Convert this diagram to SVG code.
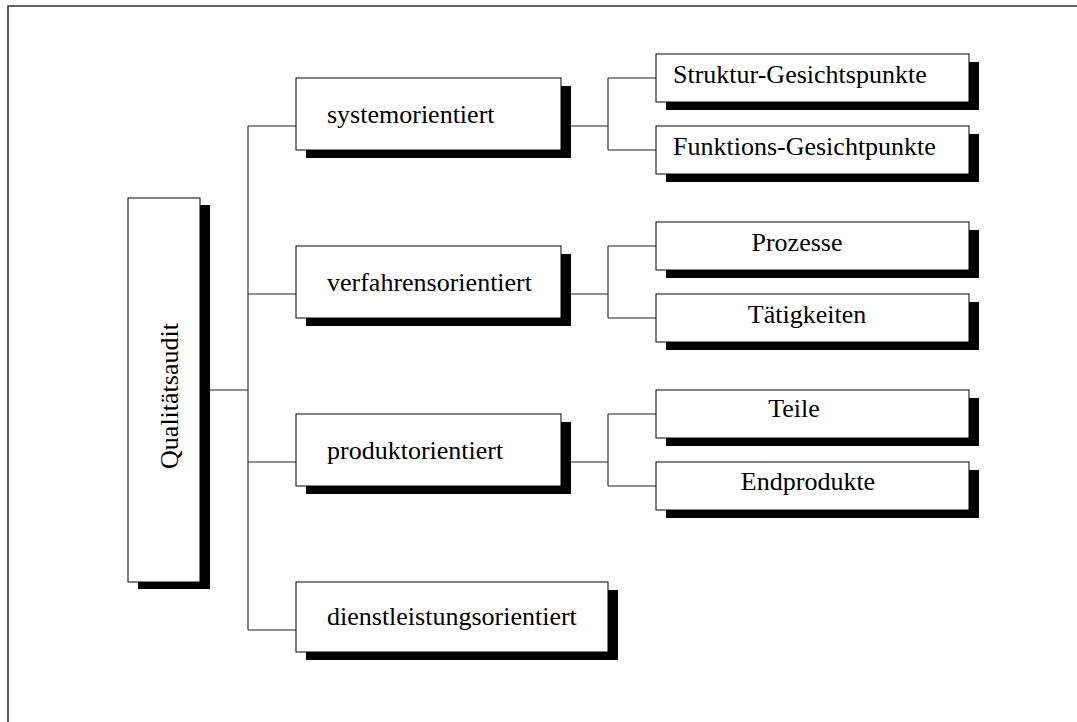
<svg xmlns="http://www.w3.org/2000/svg" width="1077" height="722" viewBox="0 0 1077 722">
  <style>
    .frame { fill: none; stroke: #3c3c3c; stroke-width: 1.6; }
    .box { fill: #ffffff; stroke: #000000; stroke-width: 1; }
    .shadow { fill: #000000; }
    .wire { fill: none; stroke: #222222; stroke-width: 1.1; }
    .label { font-family: "Liberation Serif", "Times New Roman", serif; font-size: 26px; fill: #000000; }
  </style>

  <rect width="1077" height="722" fill="#ffffff"/>
  <!-- page frame, running off the right and bottom edges -->
  <rect class="frame" x="8" y="6" width="1100" height="740"/>

  <g id="connectors">
    <!-- root to trunk -->
    <path class="wire" d="M200 390 H248 M248 126 V630"/>
    <path class="wire" d="M248 126 H296 M248 294 H296 M248 462 H296 M248 630 H296"/>
    <!-- systemorientiert branch -->
    <path class="wire" d="M561 126 H608 M608 78 V150 M608 78 H656 M608 150 H656"/>
    <!-- verfahrensorientiert branch -->
    <path class="wire" d="M561 294 H608 M608 246 V318 M608 246 H656 M608 318 H656"/>
    <!-- produktorientiert branch -->
    <path class="wire" d="M561 462 H608 M608 414 V486 M608 414 H656 M608 486 H656"/>
  </g>

  <g id="node-qualitaetsaudit">
    <rect class="shadow" x="138" y="205" width="72" height="384"/>
    <rect class="box" x="128" y="198" width="72" height="384"/>
    <text class="label" transform="translate(178 396) rotate(-90)" text-anchor="middle">Qualitätsaudit</text>
  </g>

  <g id="node-systemorientiert">
    <rect class="shadow" x="306" y="86" width="265" height="72"/>
    <rect class="box" x="296" y="78" width="265" height="72"/>
    <text class="label" x="327" y="123">systemorientiert</text>
  </g>

  <g id="node-verfahrensorientiert">
    <rect class="shadow" x="306" y="254" width="265" height="72"/>
    <rect class="box" x="296" y="246" width="265" height="72"/>
    <text class="label" x="327" y="291">verfahrensorientiert</text>
  </g>

  <g id="node-produktorientiert">
    <rect class="shadow" x="306" y="422" width="265" height="72"/>
    <rect class="box" x="296" y="414" width="265" height="72"/>
    <text class="label" x="327" y="459">produktorientiert</text>
  </g>

  <g id="node-dienstleistungsorientiert">
    <rect class="shadow" x="306" y="590" width="312" height="70"/>
    <rect class="box" x="296" y="582" width="312" height="70"/>
    <text class="label" x="327" y="625">dienstleistungsorientiert</text>
  </g>

  <g id="node-struktur">
    <rect class="shadow" x="666" y="62" width="313" height="48"/>
    <rect class="box" x="656" y="54" width="313" height="48"/>
    <text class="label" x="673" y="83">Struktur-Gesichtspunkte</text>
  </g>

  <g id="node-funktions">
    <rect class="shadow" x="666" y="134" width="313" height="48"/>
    <rect class="box" x="656" y="126" width="313" height="48"/>
    <text class="label" x="673" y="155">Funktions-Gesichtpunkte</text>
  </g>

  <g id="node-prozesse">
    <rect class="shadow" x="666" y="230" width="313" height="48"/>
    <rect class="box" x="656" y="222" width="313" height="48"/>
    <text class="label" x="797" y="251" text-anchor="middle">Prozesse</text>
  </g>

  <g id="node-taetigkeiten">
    <rect class="shadow" x="666" y="302" width="313" height="48"/>
    <rect class="box" x="656" y="294" width="313" height="48"/>
    <text class="label" x="807" y="323" text-anchor="middle">Tätigkeiten</text>
  </g>

  <g id="node-teile">
    <rect class="shadow" x="666" y="398" width="313" height="48"/>
    <rect class="box" x="656" y="390" width="313" height="48"/>
    <text class="label" x="794" y="417" text-anchor="middle">Teile</text>
  </g>

  <g id="node-endprodukte">
    <rect class="shadow" x="666" y="470" width="313" height="48"/>
    <rect class="box" x="656" y="462" width="313" height="48"/>
    <text class="label" x="808" y="490" text-anchor="middle">Endprodukte</text>
  </g>
</svg>
